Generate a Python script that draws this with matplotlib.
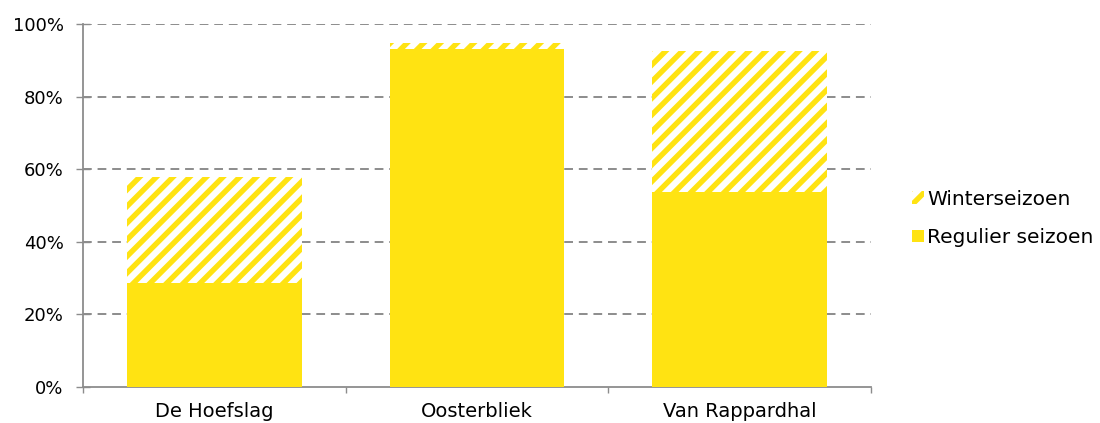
import matplotlib
matplotlib.use("Agg")
import matplotlib.pyplot as plt
import numpy as np
from matplotlib.ticker import FixedLocator, PercentFormatter

categories = ["De Hoefslag", "Oosterbliek", "Van Rappardhal"]
regulier = [28.6, 93.1, 53.6]
winter = [29.3, 1.7, 39.0]
yticks = [0, 20, 40, 60, 80, 100]

yellow = "#FFE312"
grey = "#8C8C8C"
plt.rcParams["hatch.linewidth"] = 3.9
plt.rcParams["hatch.color"] = yellow
plt.rcParams["font.family"] = ["DejaVu Sans"]

fig = plt.figure(figsize=(11, 4.23), dpi=100)
ax = fig.add_axes([83 / 1100, 1 - 387 / 423, 788 / 1100, 363 / 423])

x = np.arange(len(categories))
w = 0.665
b1 = ax.bar(x, regulier, w, color=yellow, edgecolor="none", label="Regulier seizoen", zorder=3)
b2 = ax.bar(x, winter, w, bottom=regulier, facecolor="white", edgecolor=yellow,
            hatch="//", linewidth=0, label="Winterseizoen", zorder=3)

ax.set_xlim(-0.5, len(categories) - 0.5)
ax.set_ylim(0, 100)
ax.set_yticks(yticks)
ax.yaxis.set_major_formatter(PercentFormatter(decimals=0))
ax.set_xticks(x)
ax.set_xticklabels(categories)
ax.xaxis.set_minor_locator(FixedLocator(np.arange(-0.5, len(categories), 1.0)))
ax.tick_params(axis="x", which="major", length=0, labelsize=14, pad=11)
ax.tick_params(axis="x", which="minor", length=4.5, width=1.0, color=grey, direction="out")
ax.tick_params(axis="y", length=10, width=1.0, color=grey, direction="inout", labelsize=13, pad=9)

for s in ["top", "right"]:
    ax.spines[s].set_visible(False)
for s in ["left", "bottom"]:
    ax.spines[s].set_color(grey)
    ax.spines[s].set_linewidth(1.3)

for yv in yticks[1:]:
    ax.axhline(yv, color=grey, linestyle=(0, (4.5, 3)), linewidth=1.4, zorder=1)

handles = [b2, b1]
leg = fig.legend(handles, ["Winterseizoen", "Regulier seizoen"], loc="center left",
                 bbox_to_anchor=(912 / 1100, 1 - 218.5 / 423), frameon=False, fontsize=14.5,
                 handlelength=0.6, handleheight=0.6, handletextpad=0.15,
                 labelspacing=0.95, borderpad=0, borderaxespad=0)

fig.savefig("out.png", dpi=100)
